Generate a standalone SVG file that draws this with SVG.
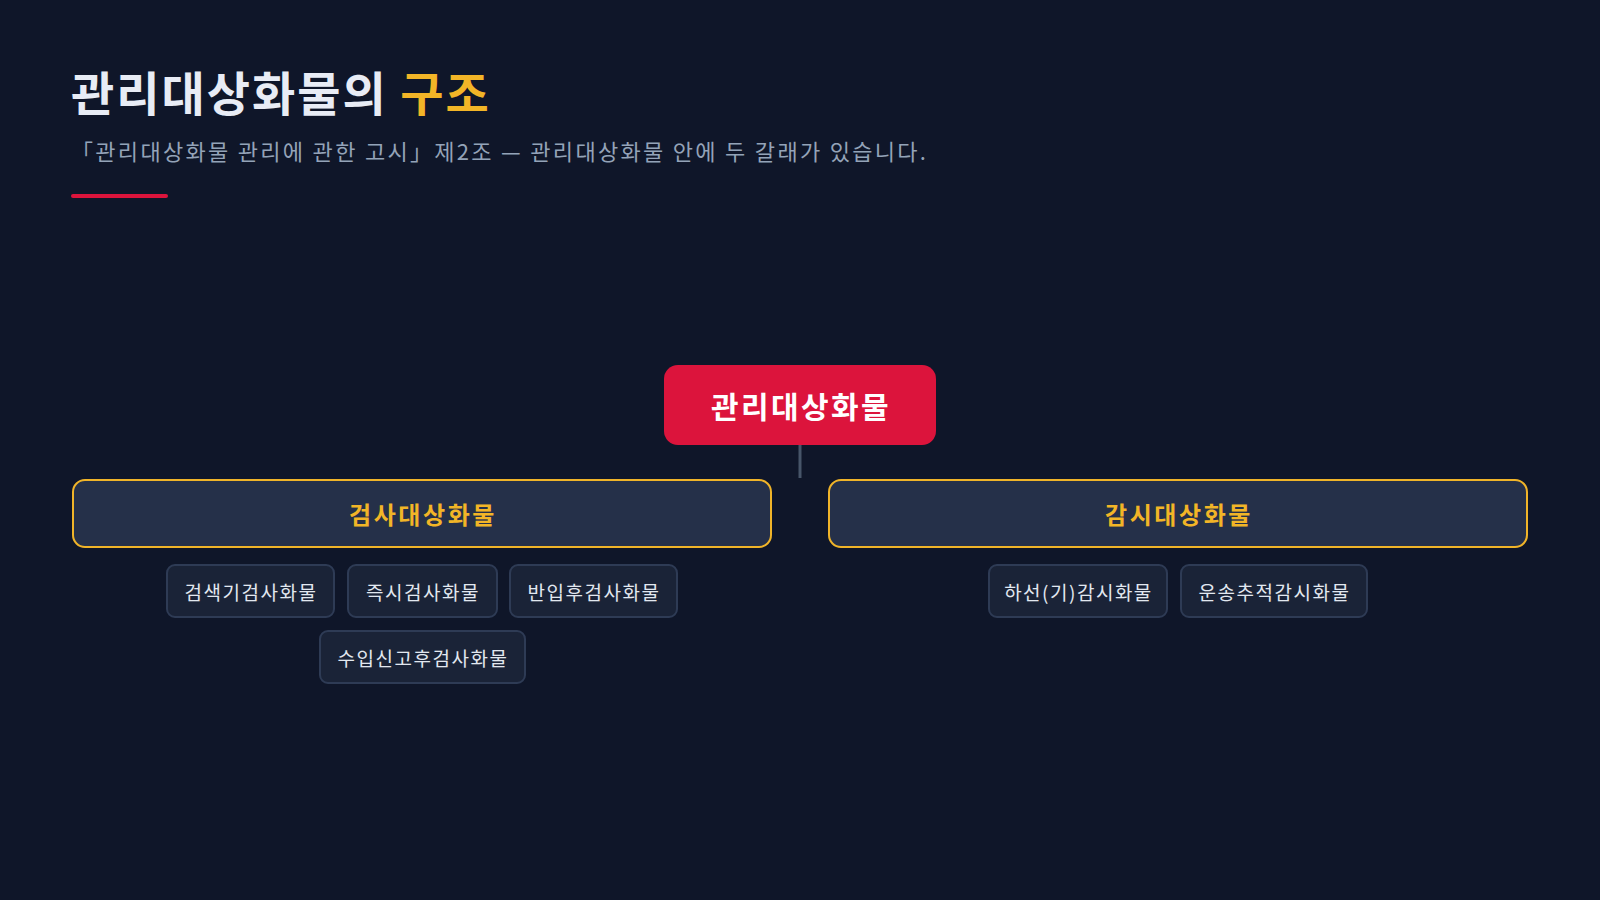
<svg xmlns="http://www.w3.org/2000/svg" width="1600" height="900" viewBox="0 0 1600 900">
<style>
.bg{fill:#0f1629}
.title{font-family:"Noto Sans CJK KR","Noto Sans",sans-serif;font-weight:700;font-size:47px;fill:#e8ecf5;letter-spacing:2px}
.accent{fill:#f2b527}
.sub{font-family:"Noto Sans CJK KR","Noto Sans",sans-serif;font-size:22px;fill:#94a3b8;letter-spacing:2.3px}
.root rect{fill:#dc143c}
.root text{font-family:"Noto Sans CJK KR",sans-serif;font-weight:700;font-size:30px;fill:#ffffff;text-anchor:middle;dominant-baseline:central;letter-spacing:2.4px}
.cat rect{fill:#253049;stroke:#f0b429;stroke-width:2}
.cat text{font-family:"Noto Sans CJK KR",sans-serif;font-weight:700;font-size:24px;fill:#f2b527;text-anchor:middle;dominant-baseline:central;letter-spacing:2.6px}
.leaf rect{fill:#1a2337;stroke:#2e3b55;stroke-width:2}
.leaf text{font-family:"Noto Sans CJK KR",sans-serif;font-size:19px;fill:#e2e8f0;text-anchor:middle;dominant-baseline:central;letter-spacing:1.5px}
.conn{stroke:#475569;stroke-width:3;fill:none}
</style>
<rect class="bg" x="0" y="0" width="1600" height="900"/>
<text class="title" x="71" y="111">관리대상화물의 <tspan class="accent">구조</tspan></text>
<text class="sub" x="71" y="160">「관리대상화물 관리에 관한 고시」제2조 — 관리대상화물 안에 두 갈래가 있습니다.</text>
<rect x="71" y="194" width="97" height="4" rx="2" fill="#dc143c"/>
<g id="connectors">
<line class="conn" x1="800" y1="445" x2="800" y2="478"/>
</g>
<g id="root" class="root">
<rect x="664" y="365" width="272" height="80" rx="14"/>
<text x="801" y="405">관리대상화물</text>
</g>
<g id="inspect" class="cat">
<rect x="73" y="480" width="698" height="67" rx="12"/>
<text x="423" y="513">검사대상화물</text>
</g>
<g id="monitor" class="cat">
<rect x="829" y="480" width="698" height="67" rx="12"/>
<text x="1179" y="513">감시대상화물</text>
</g>
<g id="leaf1" class="leaf">
<rect x="167" y="565" width="167" height="52" rx="8"/>
<text x="251" y="591">검색기검사화물</text>
</g>
<g id="leaf2" class="leaf">
<rect x="348" y="565" width="149" height="52" rx="8"/>
<text x="423" y="591">즉시검사화물</text>
</g>
<g id="leaf3" class="leaf">
<rect x="510" y="565" width="167" height="52" rx="8"/>
<text x="594" y="591">반입후검사화물</text>
</g>
<g id="leaf4" class="leaf">
<rect x="320" y="631" width="205" height="52" rx="8"/>
<text x="423" y="657">수입신고후검사화물</text>
</g>
<g id="leaf5" class="leaf">
<rect x="989" y="565" width="178" height="52" rx="8"/>
<text x="1078.5" y="591">하선(기)감시화물</text>
</g>
<g id="leaf6" class="leaf">
<rect x="1181" y="565" width="186" height="52" rx="8"/>
<text x="1274.5" y="591">운송추적감시화물</text>
</g>
</svg>
